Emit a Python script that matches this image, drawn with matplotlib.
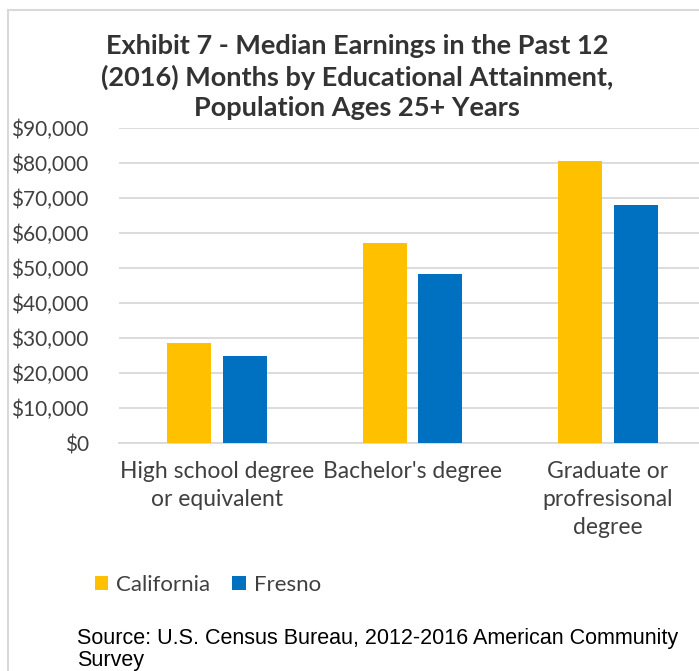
import matplotlib.pyplot as plt
from matplotlib.patches import Rectangle
from matplotlib.ticker import FuncFormatter
import numpy as np

categories = ['High school degree\nor equivalent', "Bachelor's degree",
              'Graduate or\nprofresisonal\ndegree']
california = [28700, 57100, 80500]
fresno = [24900, 48200, 68000]

plt.rcParams['font.family'] = ['Lato', 'DejaVu Sans']
TXT = '#404040'

fig = plt.figure(figsize=(6.99, 6.71), dpi=100)
W, H = 699, 671

# chart border (cropped on right)
fig.patches.append(Rectangle((8 / W, -0.1), 1.2, 1 - 10 / H + 0.1,
                             transform=fig.transFigure, fill=False,
                             edgecolor='#d9d9d9', linewidth=1.5))

left, right = 119.25, 705.75
ax = fig.add_axes([left / W, 1 - 443 / H, (right - left) / W, (443 - 128) / H])

x = np.arange(len(categories))
w = 0.225
off = 0.143
ax.bar(x - off, california, width=w, color='#FFC000', label='California', zorder=3)
ax.bar(x + off, fresno, width=w, color='#0070C0', label='Fresno', zorder=3)

ax.set_xlim(-0.5, 2.5)
ax.set_ylim(0, 90000)
ax.set_yticks(range(0, 90001, 10000))
ax.yaxis.set_major_formatter(FuncFormatter(lambda v, p: '${:,.0f}'.format(v)))
ax.grid(axis='y', color='#d9d9d9', linewidth=1.3, zorder=0)
for s in ['top', 'right', 'left']:
    ax.spines[s].set_visible(False)
ax.spines['bottom'].set_color('#d9d9d9')
ax.spines['bottom'].set_linewidth(1.3)
ax.tick_params(axis='both', length=0, colors=TXT)
ax.tick_params(axis='y', labelsize=15, pad=22)
ax.tick_params(axis='x', labelsize=16.5, pad=13)
ax.set_xticks(x)
ax.set_xticklabels(categories, linespacing=1.4)

fig.text(357 / W, 1 - 34 / H,
         'Exhibit 7 - Median Earnings in the Past 12\n(2016) Months by Educational Attainment,\nPopulation Ages 25+ Years',
         ha='center', va='top', fontsize=19.5, fontweight='bold', color='#333333',
         linespacing=1.3)

fig.legend(loc='center left', bbox_to_anchor=(75 / W, 1 - 585 / H), ncol=2,
           frameon=False, fontsize=16, labelcolor=TXT, handlelength=0.6,
           handleheight=0.6, handletextpad=0.35, columnspacing=1.0)

fig.text(77 / W, 1 - 628 / H,
         'Source: U.S. Census Bureau, 2012-2016 American Community\nSurvey',
         ha='left', va='top', fontsize=15.5, color='black',
         family=['Liberation Sans', 'DejaVu Sans'], linespacing=1.05)

fig.savefig('out.png', dpi=100)
